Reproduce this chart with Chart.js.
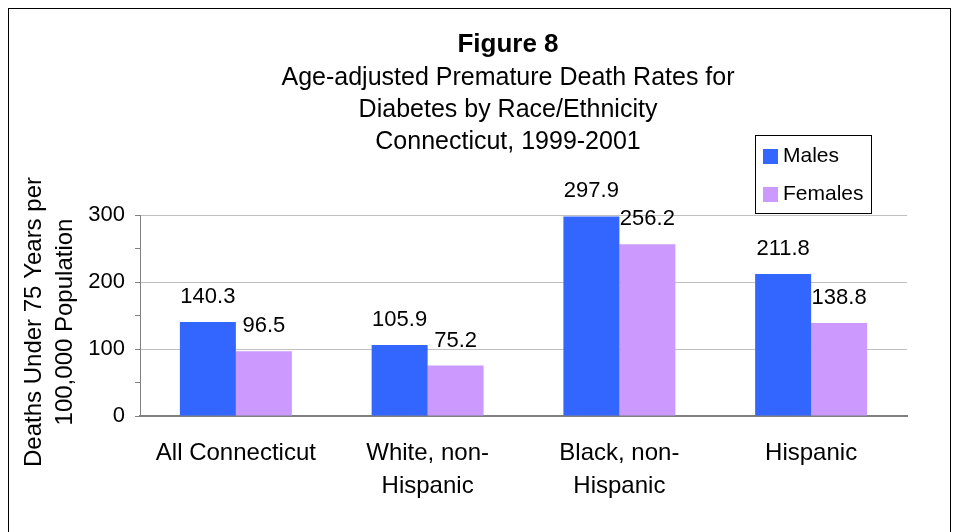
<!DOCTYPE html>
<html>
<head>
<meta charset="utf-8">
<script src="https://cdn.jsdelivr.net/npm/chart.js@4.4.1/dist/chart.umd.min.js"></script>
<style>
  html, body { margin: 0; padding: 0; background: #fff; }
  #wrap { width: 956px; height: 532px; position: relative; }
</style>
</head>
<body>
<div id="wrap"><canvas id="chart"></canvas></div>
<script>
// Chart data
const categories = [["All Connecticut"], ["White, non-", "Hispanic"], ["Black, non-", "Hispanic"], ["Hispanic"]];
const malesRates = [140.3, 105.9, 297.9, 211.8];
const femalesRates = [96.5, 75.2, 256.2, 138.8];
const yTicks = [0, 100, 200, 300];

const titleText = "Figure 8";
const subtitleLines = ["Age-adjusted Premature Death Rates for", "Diabetes by Race/Ethnicity", "Connecticut, 1999-2001"];
const yTitleLines = ["Deaths Under 75 Years per", "100,000 Population"];

const FONT = "'Liberation Sans', Arial, sans-serif";

// Title, legend, axis title, value labels and frame
const decorPlugin = {
    id: "decor",
    afterDraw(chart) {
        const ctx = chart.ctx;
        ctx.save();

        // outer frame
        ctx.strokeStyle = "#000";
        ctx.lineWidth = 1;
        ctx.strokeRect(8.5, 8.5, 942, 540);

        // title
        ctx.fillStyle = "#000";
        ctx.textAlign = "center";
        ctx.textBaseline = "middle";
        ctx.font = "bold 26px " + FONT;
        ctx.fillText(titleText, 508, 45);
        ctx.font = "25px " + FONT;
        subtitleLines.forEach((line, i) => {
            ctx.fillText(line, 508, 78 + i * 32);
        });

        // y axis title
        ctx.save();
        ctx.translate(0, 322);
        ctx.rotate(-Math.PI / 2);
        ctx.font = "24px " + FONT;
        ctx.fillText(yTitleLines[0], 0, 34);
        ctx.fillText(yTitleLines[1], 0, 65);
        ctx.restore();

        // value labels
        ctx.font = "22px " + FONT;
        chart.data.datasets.forEach((ds, di) => {
            const meta = chart.getDatasetMeta(di);
            meta.data.forEach((bar, i) => {
                ctx.fillText(ds.data[i].toFixed(1), bar.x, bar.y - 25);
            });
        });

        // legend box
        ctx.fillStyle = "#fff";
        ctx.fillRect(755.5, 135.5, 116, 78);
        ctx.strokeStyle = "#000";
        ctx.strokeRect(755.5, 135.5, 116, 78);
        ctx.textAlign = "left";
        ctx.font = "21px " + FONT;
        chart.data.datasets.forEach((ds, di) => {
            const cy = 156 + di * 38;
            ctx.fillStyle = ds.backgroundColor;
            ctx.fillRect(763, cy - 7, 15, 15);
            ctx.fillStyle = "#000";
            ctx.fillText(ds.label, 783, cy);
        });

        ctx.restore();
    }
};

new Chart(document.getElementById("chart"), {
    type: "bar",
    data: {
        labels: categories,
        datasets: [
            { label: "Males", data: malesRates, backgroundColor: "#3366FF" },
            { label: "Females", data: femalesRates, backgroundColor: "#CC99FF" }
        ]
    },
    options: {
        responsive: true,
        maintainAspectRatio: false,
        animation: false,
        events: [],
        categoryPercentage: 0.584,
        barPercentage: 1,
        layout: { padding: { top: 215, right: 49, bottom: 0, left: 0 } },
        plugins: {
            legend: { display: false },
            title: { display: false },
            tooltip: { enabled: false }
        },
        scales: {
            x: {
                afterFit(scale) { scale.height = 116; },
                grid: {
                    drawOnChartArea: false,
                    offset: true,
                    tickLength: 6,
                    tickColor: "rgba(0,0,0,0)"
                },
                border: { color: "#808080", width: 2 },
                ticks: {
                    color: "#000",
                    padding: 15,
                    font: { family: FONT, size: 24, lineHeight: 1.375 }
                }
            },
            y: {
                min: 0,
                max: 300,
                afterFit(scale) { scale.width = 140; },
                afterBuildTicks(scale) {
                    // tick marks every 50, labels only on the named ticks
                    const t = [];
                    for (let v = 0; v <= 300; v += 50) t.push({ value: v });
                    scale.ticks = t;
                },
                grid: {
                    color: (c) => yTicks.includes(c.tick && c.tick.value) && c.tick.value > 0 ? "#c0c0c0" : "rgba(0,0,0,0)",
                    tickColor: "#808080",
                    tickLength: 5
                },
                border: { color: "#808080", width: 1 },
                ticks: {
                    color: "#000",
                    padding: 10,
                    font: { family: FONT, size: 22 },
                    callback: (v) => yTicks.includes(v) ? String(v) : ""
                }
            }
        }
    },
    plugins: [decorPlugin]
});
</script>
</body>
</html>
